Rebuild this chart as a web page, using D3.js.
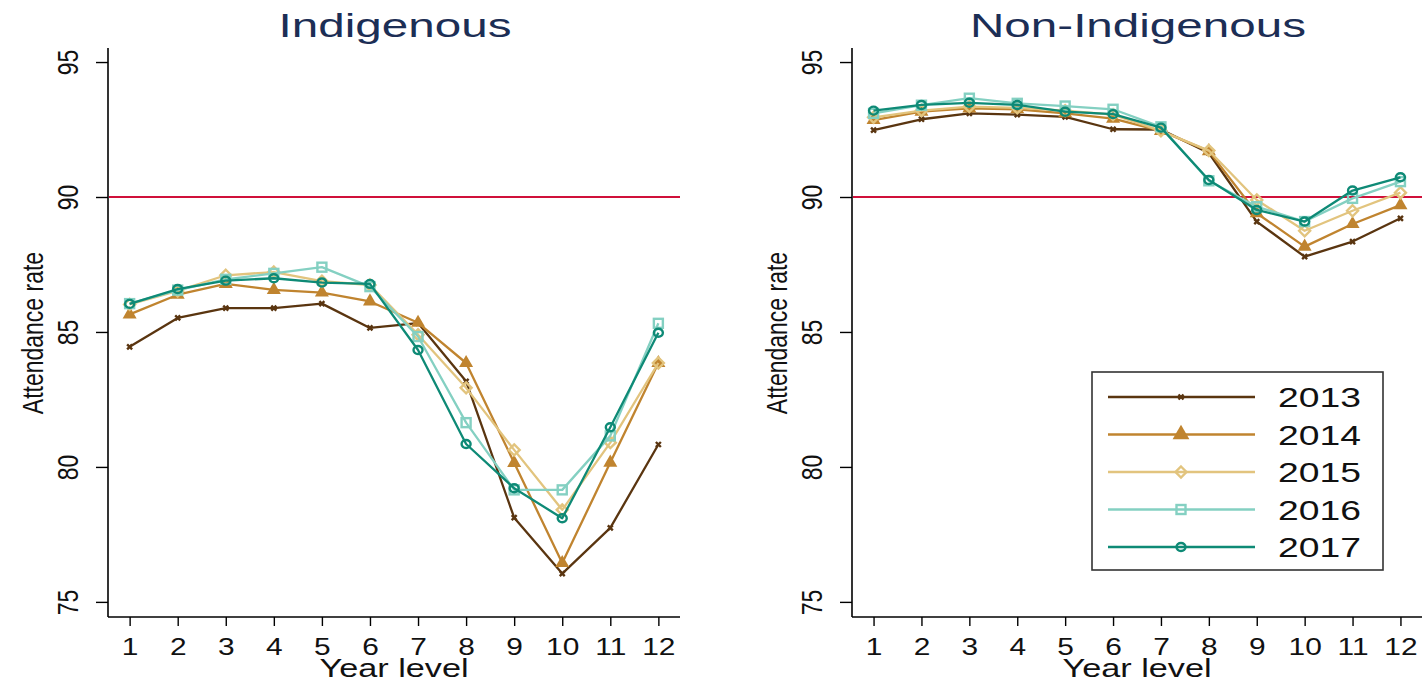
<!DOCTYPE html>
<html>
<head>
<meta charset="utf-8">
<script src="https://cdn.jsdelivr.net/npm/d3@7"></script>
<style>
  body { margin: 0; background: #fff; }
  text { font-family: "Liberation Sans", Arial, sans-serif; }
</style>
</head>
<body>
<div id="chart"></div>
<script>
// data

var years = [1, 2, 3, 4, 5, 6, 7, 8, 9, 10, 11, 12],
    seriesNames = ["2013", "2014", "2015", "2016", "2017"],
    yTicks = [75, 80, 85, 90, 95];

var indig2013 = [84.45, 85.52, 85.88, 85.88, 86.05, 85.15, 85.33, 83.17, 78.12, 76.05, 77.74, 80.83],
    indig2014 = [85.65, 86.38, 86.78, 86.56, 86.46, 86.13, 85.34, 83.85, 80.15, 76.44, 80.16, 83.85],
    indig2015 = [86.02, 86.52, 87.10, 87.22, 86.88, 86.74, 84.90, 82.93, 80.63, 78.41, 80.90, 83.85],
    indig2016 = [86.05, 86.55, 86.95, 87.17, 87.40, 86.68, 84.83, 81.64, 79.15, 79.15, 81.15, 85.32],
    indig2017 = [86.04, 86.59, 86.90, 86.99, 86.83, 86.78, 84.33, 80.85, 79.21, 78.10, 81.47, 84.97];

var non2013 = [92.48, 92.88, 93.10, 93.05, 92.97, 92.51, 92.50, 91.63, 89.09, 87.79, 88.35, 89.21],
    non2014 = [92.85, 93.16, 93.28, 93.25, 93.10, 92.90, 92.45, 91.70, 89.40, 88.16, 89.00, 89.70],
    non2015 = [92.95, 93.20, 93.35, 93.30, 93.20, 93.05, 92.45, 91.72, 89.89, 88.75, 89.49, 90.16],
    non2016 = [93.10, 93.40, 93.66, 93.47, 93.37, 93.25, 92.60, 90.60, 89.64, 89.09, 89.95, 90.57],
    non2017 = [93.20, 93.41, 93.49, 93.41, 93.16, 93.07, 92.57, 90.63, 89.52, 89.09, 90.24, 90.73];

var colors = ["#5a3510", "#c0842f", "#e2c47e", "#84d0c2", "#0e8a76"],
    markers = ["cross", "triangle", "diamond", "square", "circle"];

// layout (the original picture is stretched sideways, so text gets a scaleX)

var W = 1425, H = 685,
    stretch = 1.3;

var svg = d3.select("#chart").append("svg")
    .attr("width", W)
    .attr("height", H);

var panels = [
    { title: "Indigenous", left: 108, right: 680, data: [indig2013, indig2014, indig2015, indig2016, indig2017] },
    { title: "Non-Indigenous", left: 852, right: 1422, data: [non2013, non2014, non2015, non2016, non2017] }
];

var plotTop = 48, plotBottom = 617;

function drawMarker(g, type, color, big) {
    var s = big ? 1.2 : 1;
    if (type === "cross") {
        g.append("path").attr("d", "M-2.5,-2.5L2.5,2.5M-2.5,2.5L2.5,-2.5")
            .attr("stroke", color).attr("stroke-width", 2.4).attr("fill", "none");
    } else if (type === "triangle") {
        g.append("path").attr("d", d3.symbol(d3.symbolTriangle, 85 * s * s)())
            .attr("fill", color);
    } else if (type === "diamond") {
        g.append("path").attr("d", "M0,-5.5L5.5,0L0,5.5L-5.5,0Z")
            .attr("fill", "none").attr("stroke", color).attr("stroke-width", 2.4);
    } else if (type === "square") {
        g.append("rect").attr("x", -4.5).attr("y", -4.5).attr("width", 9).attr("height", 9)
            .attr("fill", "none").attr("stroke", color).attr("stroke-width", 2.4);
    } else {
        g.append("ellipse").attr("rx", 4.5).attr("ry", 4)
            .attr("fill", "none").attr("stroke", color).attr("stroke-width", 2.4);
    }
}

panels.forEach(function(p) {
    var x = d3.scaleLinear()
        .domain([0.55, 12.45])
        .range([p.left, p.right]);
    var y = d3.scaleLinear()
        .domain([74.44, 95.52])
        .range([plotBottom, plotTop]);

    var g = svg.append("g");
    var cx = (p.left + p.right) / 2;

    // title
    g.append("text")
        .attr("transform", "translate(" + (cx + 1) + ",37) scale(1.4,1)")
        .attr("text-anchor", "middle")
        .style("font-size", "34px")
        .style("fill", "#1c2e55")
        .text(p.title);

    // y axis
    var yAxis = d3.axisLeft(y).tickValues(yTicks).tickSize(12).tickFormat(d3.format("d"));
    var gY = g.append("g")
        .attr("transform", "translate(" + p.left + ",0)")
        .call(yAxis);
    gY.select(".domain").attr("d", "M0," + plotTop + "V" + plotBottom).attr("stroke-width", 1.6);
    gY.selectAll(".tick line").attr("stroke-width", 1.4);
    gY.selectAll(".tick text")
        .attr("x", null).attr("dy", null).attr("y", 0)
        .attr("transform", "translate(-30,0) scale(" + stretch + ",1) rotate(-90)")
        .attr("text-anchor", "middle")
        .style("font-size", "23px")
        .style("fill", "#111");

    g.append("text")
        .attr("transform", "translate(" + (p.left - 65) + ",333) scale(" + stretch + ",1) rotate(-90)")
        .attr("text-anchor", "middle")
        .style("font-size", "23px")
        .style("fill", "#111")
        .text("Attendance rate");

    // x axis
    var xAxis = d3.axisBottom(x).tickValues(years).tickSize(9);
    var gX = g.append("g")
        .attr("transform", "translate(0," + plotBottom + ")")
        .call(xAxis);
    gX.select(".domain").attr("d", "M" + p.left + ",0H" + p.right).attr("stroke-width", 1.6);
    gX.selectAll(".tick line").attr("stroke-width", 1.4);
    gX.selectAll(".tick text")
        .attr("y", null).attr("dy", null)
        .attr("transform", "translate(0,38) scale(" + stretch + ",1)")
        .style("font-size", "23px")
        .style("fill", "#111");

    g.append("text")
        .attr("transform", "translate(" + cx + ",677) scale(1.37,1)")
        .attr("text-anchor", "middle")
        .style("font-size", "25px")
        .style("fill", "#111")
        .text("Year level");

    // reference line at 90
    g.append("line")
        .attr("x1", p.left + 1).attr("x2", p.right)
        .attr("y1", y(90)).attr("y2", y(90))
        .attr("stroke", "#d0103a")
        .attr("stroke-width", 2);

    var line = d3.line()
        .x(function(d, i) { return x(years[i]); })
        .y(function(d) { return y(d); });

    p.data.forEach(function(series, k) {
        var sg = g.append("g").attr("class", "series");
        sg.append("path")
            .datum(series)
            .attr("d", line)
            .attr("fill", "none")
            .attr("stroke", colors[k])
            .attr("stroke-width", 2.3)
            .attr("stroke-linejoin", "round");
        sg.selectAll(".mk")
            .data(series)
            .enter()
            .append("g")
            .attr("class", "mk")
            .attr("transform", function(d, i) { return "translate(" + x(years[i]) + "," + y(d) + ")"; })
            .each(function() { drawMarker(d3.select(this), markers[k], colors[k], false); });
    });
});

// legend
var lg = svg.append("g").attr("transform", "translate(1092,372)");
lg.append("rect")
    .attr("width", 291).attr("height", 198)
    .attr("fill", "#fff")
    .attr("stroke", "#333")
    .attr("stroke-width", 1.6);

seriesNames.forEach(function(name, k) {
    var yy = 25 + k * 37.5;
    lg.append("line")
        .attr("x1", 16).attr("x2", 163)
        .attr("y1", yy).attr("y2", yy)
        .attr("stroke", colors[k])
        .attr("stroke-width", 2.3);
    var m = lg.append("g").attr("transform", "translate(89," + yy + ")");
    drawMarker(m, markers[k], colors[k], true);
    lg.append("text")
        .attr("transform", "translate(186," + (yy + 10) + ") scale(1.38,1)")
        .style("font-size", "27px")
        .style("fill", "#111")
        .text(name);
});
</script>
</body>
</html>
